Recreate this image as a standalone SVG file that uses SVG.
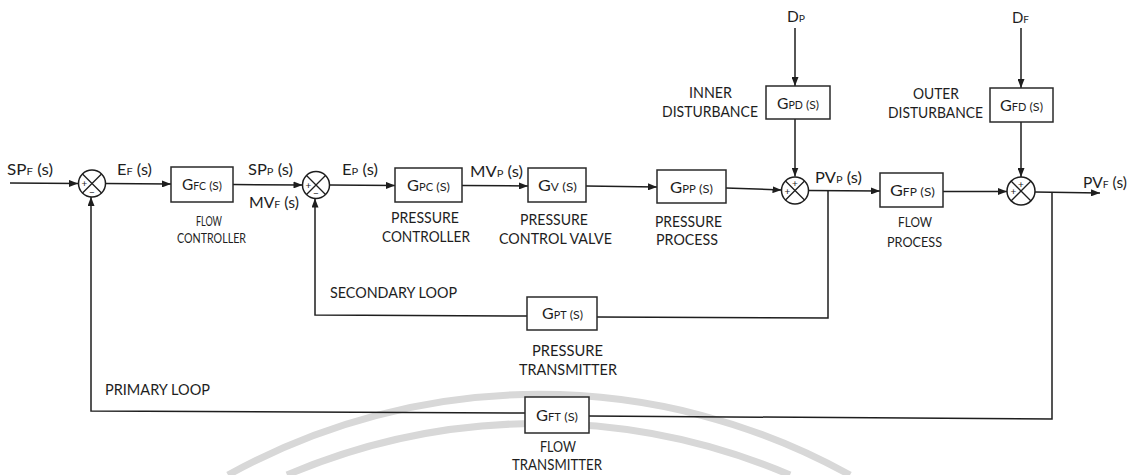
<svg xmlns="http://www.w3.org/2000/svg" width="1139" height="475" viewBox="0 0 1139 475">
<style>
.ln{fill:none;stroke:#1e1e1e;stroke-width:1.5}
.arr{marker-end:url(#ah)}
.box{fill:#fff;stroke:#2a2a2a;stroke-width:1.5}
.sumc{fill:#fff;stroke:#1e1e1e;stroke-width:1.5}
.x{stroke:#1e1e1e;stroke-width:1.3}
text{font-family:Lato,"Liberation Sans",sans-serif;fill:#1e1e1e}
.sig{font-size:15px}
.sub{font-size:10px}
.bx{font-size:15.5px}
.bs{font-size:10.5px}
.par{font-size:12px}
.lbl{font-size:14.5px}
.sm{font-size:13.5px}
.md{font-size:13.5px}
.sign{font-size:10px;text-anchor:middle}
.wm{fill:none;stroke:#d8d8d8;stroke-width:7}
</style>
<defs>
<marker id="ah" markerWidth="9" markerHeight="7" refX="9" refY="3.5" orient="auto" markerUnits="userSpaceOnUse">
<path d="M0,0 L9,3.5 L0,7 z" fill="#1e1e1e"/>
</marker>
</defs>
<rect width="1139" height="475" fill="#fff"/>
<g id="watermark">
<path class="wm" d="M228,475 A640,640 0 0 1 850,475"/>
<path class="wm" d="M287,475 A640,640 0 0 1 790,475"/>
</g>
<g id="connectors">
<path class="ln arr" d="M10,183 L78,183.5"/>
<path class="ln arr" d="M105.5,183.5 L171,184"/>
<path class="ln arr" d="M233,184.5 L302.5,185"/>
<path class="ln arr" d="M329.5,185 L395,185.5"/>
<path class="ln arr" d="M462,185.5 L528,186"/>
<path class="ln arr" d="M586,186 L657,187"/>
<path class="ln arr" d="M726,188 L781.5,190"/>
<path class="ln arr" d="M808.5,190.5 L880,191"/>
<path class="ln arr" d="M943,191.5 L1007,191.5"/>
<path class="ln arr" d="M1035,192 L1100,193"/>
<path class="ln arr" d="M795,28 V86"/>
<path class="ln arr" d="M795,119 V176.5"/>
<path class="ln arr" d="M1021,28 V88"/>
<path class="ln arr" d="M1021,122 V177"/>
<path class="ln" d="M828,191 V318 L597,317"/>
<path class="ln arr" d="M527,316 L315,315 V198.5"/>
<path class="ln" d="M1052,193 V419 L589,416"/>
<path class="ln arr" d="M525,413 L91,411 V197"/>
</g>
<g id="sum1" transform="translate(92,183.5)">
<circle class="sumc" r="13.5"/><path class="x" d="M-9.5,-9.5 L9.5,9.5 M-9.5,9.5 L9.5,-9.5"/>
<text class="sign" x="-7.5" y="3.5">+</text><text class="sign" x="0" y="12">−</text>
</g>
<g id="sum2" transform="translate(316,185)">
<circle class="sumc" r="13.5"/><path class="x" d="M-9.5,-9.5 L9.5,9.5 M-9.5,9.5 L9.5,-9.5"/>
<text class="sign" x="-7.5" y="3.5">+</text><text class="sign" x="0" y="12">−</text>
</g>
<g id="sum3" transform="translate(795,190.5)">
<circle class="sumc" r="13.5"/><path class="x" d="M-9.5,-9.5 L9.5,9.5 M-9.5,9.5 L9.5,-9.5"/>
<text class="sign" x="0" y="-3.5">+</text><text class="sign" x="-7.5" y="4">+</text>
</g>
<g id="sum4" transform="translate(1021,191)">
<circle class="sumc" r="14"/><path class="x" d="M-10,-10 L10,10 M-10,10 L10,-10"/>
<text class="sign" x="0" y="-3.5">+</text><text class="sign" x="-7.5" y="4">+</text>
</g>
<g id="gfc"><rect class="box" x="171" y="167" width="62" height="35"/>
<text class="bx" x="182" y="190" textLength="40" lengthAdjust="spacingAndGlyphs">G<tspan class="bs">FC</tspan><tspan class="par"> (S)</tspan></text>
<text class="sm" x="196" y="226" textLength="26" lengthAdjust="spacingAndGlyphs">FLOW</text>
<text class="sm" x="177" y="243" textLength="69" lengthAdjust="spacingAndGlyphs">CONTROLLER</text></g>
<g id="gpc"><rect class="box" x="395" y="168" width="67" height="34"/>
<text class="bx" x="407" y="190.5" textLength="43" lengthAdjust="spacingAndGlyphs">G<tspan class="bs">PC</tspan><tspan class="par"> (S)</tspan></text>
<text class="lbl" x="391" y="223" textLength="68" lengthAdjust="spacingAndGlyphs">PRESSURE</text>
<text class="lbl" x="382" y="242" textLength="88" lengthAdjust="spacingAndGlyphs">CONTROLLER</text></g>
<g id="gv"><rect class="box" x="528" y="168" width="58" height="34"/>
<text class="bx" x="538" y="190.5" textLength="39" lengthAdjust="spacingAndGlyphs">G<tspan class="bs">V</tspan><tspan class="par"> (S)</tspan></text>
<text class="lbl" x="520" y="225" textLength="68" lengthAdjust="spacingAndGlyphs">PRESSURE</text>
<text class="lbl" x="499" y="244" textLength="113" lengthAdjust="spacingAndGlyphs">CONTROL VALVE</text></g>
<g id="gpp"><rect class="box" x="657" y="170" width="69" height="33"/>
<text class="bx" x="670" y="193" textLength="43" lengthAdjust="spacingAndGlyphs">G<tspan class="bs">PP</tspan><tspan class="par"> (S)</tspan></text>
<text class="lbl" x="655" y="227" textLength="67" lengthAdjust="spacingAndGlyphs">PRESSURE</text>
<text class="lbl" x="656" y="245" textLength="62" lengthAdjust="spacingAndGlyphs">PROCESS</text></g>
<g id="gpd"><rect class="box" x="766" y="86" width="64" height="33"/>
<text class="bx" x="777" y="108.5" textLength="42" lengthAdjust="spacingAndGlyphs">G<tspan class="bs">PD</tspan><tspan class="par"> (S)</tspan></text>
<text class="lbl" x="689" y="98" textLength="43" lengthAdjust="spacingAndGlyphs">INNER</text>
<text class="lbl" x="662" y="117" textLength="96" lengthAdjust="spacingAndGlyphs">DISTURBANCE</text></g>
<g id="gfd"><rect class="box" x="990" y="88" width="63" height="34"/>
<text class="bx" x="1000" y="111" textLength="43" lengthAdjust="spacingAndGlyphs">G<tspan class="bs">FD</tspan><tspan class="par"> (S)</tspan></text>
<text class="lbl" x="913" y="99" textLength="46" lengthAdjust="spacingAndGlyphs">OUTER</text>
<text class="lbl" x="888" y="118" textLength="95" lengthAdjust="spacingAndGlyphs">DISTURBANCE</text></g>
<g id="gfp"><rect class="box" x="880" y="173" width="63" height="34"/>
<text class="bx" x="890" y="196" textLength="45" lengthAdjust="spacingAndGlyphs">G<tspan class="bs">FP</tspan><tspan class="par"> (S)</tspan></text>
<text class="md" x="898" y="227" textLength="34" lengthAdjust="spacingAndGlyphs">FLOW</text>
<text class="md" x="887" y="247" textLength="55" lengthAdjust="spacingAndGlyphs">PROCESS</text></g>
<g id="gpt"><rect class="box" x="527" y="297" width="70" height="33"/>
<text class="bx" x="542" y="319" textLength="41" lengthAdjust="spacingAndGlyphs">G<tspan class="bs">PT</tspan><tspan class="par"> (S)</tspan></text>
<text class="lbl" x="532" y="356" textLength="71" lengthAdjust="spacingAndGlyphs">PRESSURE</text>
<text class="lbl" x="519" y="375" textLength="98" lengthAdjust="spacingAndGlyphs">TRANSMITTER</text></g>
<g id="gft"><rect class="box" x="525" y="397" width="64" height="36"/>
<text class="bx" x="536" y="421" textLength="42" lengthAdjust="spacingAndGlyphs">G<tspan class="bs">FT</tspan><tspan class="par"> (S)</tspan></text>
<text class="lbl" x="540" y="452" textLength="36" lengthAdjust="spacingAndGlyphs">FLOW</text>
<text class="lbl" x="512" y="470" textLength="90" lengthAdjust="spacingAndGlyphs">TRANSMITTER</text></g>
<g id="labels">
<text class="sig" x="7" y="175" textLength="46" lengthAdjust="spacingAndGlyphs">SP<tspan class="sub">F</tspan> (s)</text>
<text class="sig" x="117" y="175" textLength="35" lengthAdjust="spacingAndGlyphs">E<tspan class="sub">F</tspan> (s)</text>
<text class="sig" x="248" y="175" textLength="45" lengthAdjust="spacingAndGlyphs">SP<tspan class="sub">P</tspan> (s)</text>
<text class="sig" x="249" y="208" textLength="50" lengthAdjust="spacingAndGlyphs">MV<tspan class="sub">F</tspan> (s)</text>
<text class="sig" x="342" y="175" textLength="36" lengthAdjust="spacingAndGlyphs">E<tspan class="sub">P</tspan> (s)</text>
<text class="sig" x="470" y="177" textLength="53" lengthAdjust="spacingAndGlyphs">MV<tspan class="sub">P</tspan> (s)</text>
<text class="sig" x="815" y="183" textLength="47" lengthAdjust="spacingAndGlyphs">PV<tspan class="sub">P</tspan> (s)</text>
<text class="sig" x="1083" y="188" textLength="44" lengthAdjust="spacingAndGlyphs">PV<tspan class="sub">F</tspan> (s)</text>
<text class="sig" x="787" y="22" textLength="18" lengthAdjust="spacingAndGlyphs">D<tspan class="sub">P</tspan></text>
<text class="sig" x="1012" y="23" textLength="17" lengthAdjust="spacingAndGlyphs">D<tspan class="sub">F</tspan></text>
<text class="lbl" x="330" y="298" textLength="127" lengthAdjust="spacingAndGlyphs">SECONDARY LOOP</text>
<text class="lbl" x="105" y="395" font-size="13" textLength="105" lengthAdjust="spacingAndGlyphs">PRIMARY LOOP</text>
</g>
</svg>
